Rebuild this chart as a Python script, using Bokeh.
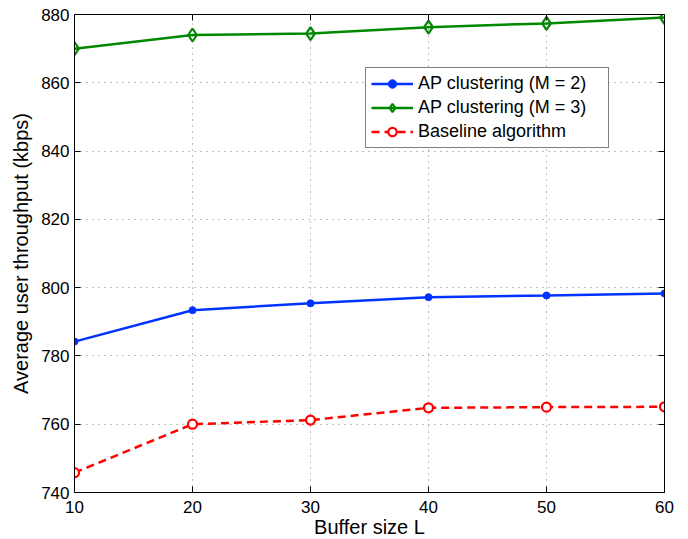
from bokeh.plotting import figure
from bokeh.models import LinearAxis, Legend, LegendItem, FixedTicker, Range1d, CustomJSTickFormatter
from bokeh.embed import file_html
from bokeh.resources import INLINE

buffer_size = [10, 20, 30, 40, 50, 60]
ap_m2 = [784.2, 793.4, 795.4, 797.2, 797.7, 798.3]
ap_m3 = [870.0, 874.0, 874.4, 876.3, 877.4, 879.1]
baseline = [745.8, 760.0, 761.2, 764.8, 765.0, 765.1]
x_ticks = [10, 20, 30, 40, 50, 60]
y_ticks = [740, 760, 780, 800, 820, 840, 860, 880]

FONT = "Liberation Sans"

p = figure(frame_width=590, frame_height=478, output_backend="svg", toolbar_location=None,
           x_range=Range1d(10, 60), y_range=Range1d(740, 880),
           min_border_left=74, min_border_right=16, min_border_top=14, min_border_bottom=45)
p.outline_line_color = None
p.background_fill_color = "white"

for ax in (p.xaxis[0], p.yaxis[0]):
    ax.major_tick_in = 6
    ax.major_tick_out = 0
    ax.minor_tick_in = 0
    ax.minor_tick_out = 0
    ax.axis_line_color = "black"
    ax.major_tick_line_color = "black"
    ax.major_label_text_font = FONT
    ax.major_label_text_font_size = "17px"
    ax.major_label_text_color = "black"
    ax.axis_label_text_font = FONT
    ax.axis_label_text_font_size = "20px"
    ax.axis_label_text_font_style = "normal"
    ax.axis_label_text_color = "black"

p.xaxis[0].ticker = FixedTicker(ticks=x_ticks)
p.yaxis[0].ticker = FixedTicker(ticks=y_ticks)
p.xaxis[0].axis_label = "Buffer size L"
p.yaxis[0].axis_label = "Average user throughput (kbps)"
p.xaxis[0].major_label_standoff = 8
p.xaxis[0].axis_label_standoff = 0
p.yaxis[0].major_label_standoff = 5
p.yaxis[0].axis_label_standoff = 6

blank = CustomJSTickFormatter(code="return ''")
top = LinearAxis(ticker=FixedTicker(ticks=x_ticks), formatter=blank,
                 major_tick_in=6, major_tick_out=0, minor_tick_in=0, minor_tick_out=0,
                 major_label_standoff=0,
                 axis_line_color="black", major_tick_line_color="black")
right = LinearAxis(ticker=FixedTicker(ticks=y_ticks), formatter=blank,
                   major_tick_in=6, major_tick_out=0, minor_tick_in=0, minor_tick_out=0,
                   major_label_standoff=0,
                   axis_line_color="black", major_tick_line_color="black")
p.add_layout(top, "above")
p.add_layout(right, "right")

p.xgrid.ticker = FixedTicker(ticks=x_ticks)
p.ygrid.ticker = FixedTicker(ticks=y_ticks)
p.grid.grid_line_color = "#777777"
p.grid.grid_line_dash = "1 5"
p.grid.grid_line_alpha = 0.9

l1 = p.line(buffer_size, ap_m2, line_color="#0033ff", line_width=2.5)
m1 = p.scatter(buffer_size, ap_m2, marker="circle", size=7, fill_color="#0033ff", line_color="#0033ff")
l2 = p.line(buffer_size, ap_m3, line_color="#008800", line_width=2.5)
m2 = p.scatter(buffer_size, ap_m3, marker="diamond", size=13, fill_color="white", fill_alpha=0,
               line_color="#008800", line_width=2.2)
l3 = p.line(buffer_size, baseline, line_color="#ff0000", line_width=2.5, line_dash="8 5")
m3 = p.scatter(buffer_size, baseline, marker="circle", size=9, fill_color="white",
               line_color="#ff0000", line_width=2.2)

legend = Legend(items=[
    LegendItem(label="AP clustering (M = 2)", renderers=[l1, m1]),
    LegendItem(label="AP clustering (M = 3)", renderers=[l2, m2]),
    LegendItem(label="Baseline algorithm", renderers=[l3, m3]),
], location=(291, 344))
legend.border_line_color = "black"
legend.border_line_width = 1
legend.background_fill_color = "white"
legend.background_fill_alpha = 1
legend.label_text_font = FONT
legend.label_text_font_size = "18px"
legend.label_text_color = "black"
legend.glyph_width = 42
legend.glyph_height = 21
legend.label_height = 21
legend.label_width = 185
legend.spacing = 3
legend.padding = 5
legend.margin = 0
legend.label_standoff = 5
p.add_layout(legend, "center")

open("out.html", "w").write(file_html(p, INLINE))
